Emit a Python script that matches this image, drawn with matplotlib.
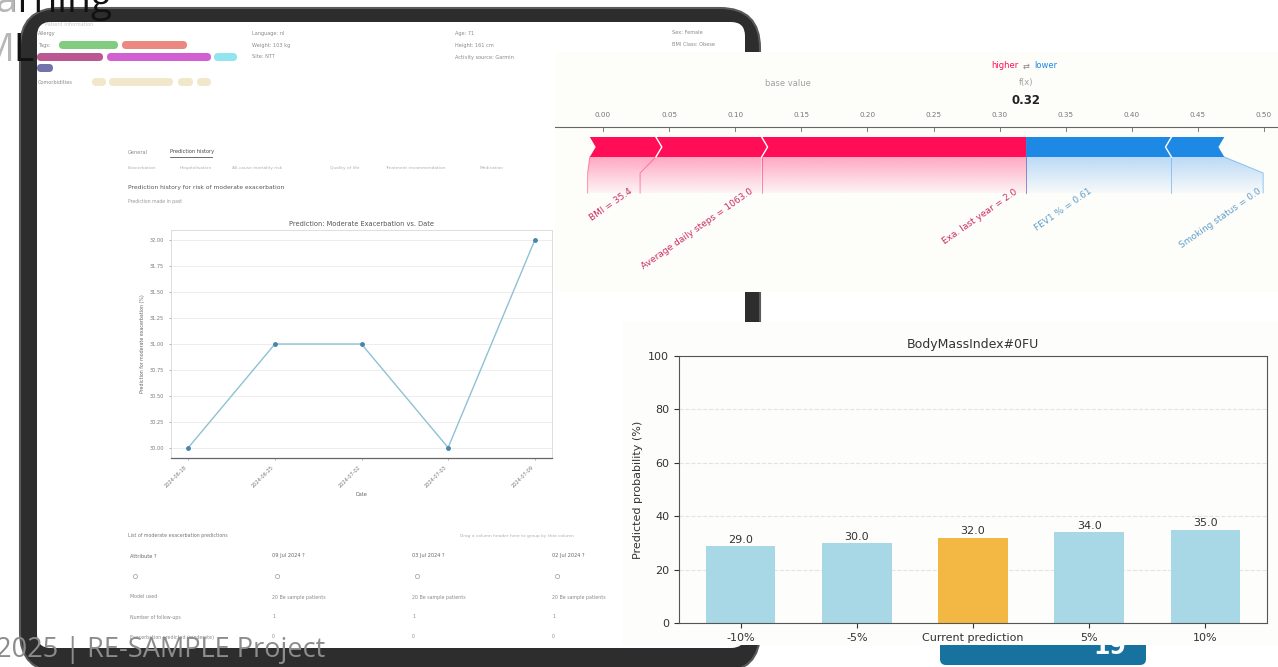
import matplotlib
matplotlib.use("Agg")
import numpy as np
import matplotlib.pyplot as plt
from matplotlib.patches import FancyBboxPatch, Rectangle, Polygon
from matplotlib.colors import to_rgb

W, H = 1278, 667

# --- prediction history shown on the tablet screenshot ---
hist_dates = ["2024-06-18", "2024-06-25", "2024-07-02", "2024-07-03", "2024-07-09"]
hist_values = [30.00, 31.00, 31.00, 30.00, 32.00]
hist_yticks = [30.00, 30.25, 30.50, 30.75, 31.00, 31.25, 31.50, 31.75, 32.00]

# --- SHAP force plot ---
base_value = 0.14
fx_value = 0.32
pos_names = ["Exa. last year = 2.0", "Average daily steps = 1063.0", "BMI = 35.4"]
pos_effects = [0.20, 0.08, 0.05]
neg_names = ["FEV1 % = 0.61", "Smoking status = 0.0"]
neg_effects = [0.11, 0.04]
force_ticks = [0.00, 0.05, 0.10, 0.15, 0.20, 0.25, 0.30, 0.35, 0.40, 0.45, 0.50]

# --- what-if bar chart ---
whatif_labels = ["-10%", "-5%", "Current prediction", "5%", "10%"]
whatif_values = [29.0, 30.0, 32.0, 34.0, 35.0]
whatif_current = 2

fig = plt.figure(figsize=(W / 100, H / 100), dpi=100)
fig.patch.set_facecolor("white")


def px_axes(x0, y0, x1, y1, **kw):
    # axes placed with pixel coordinates (top-left origin)
    return fig.add_axes([x0 / W, 1 - y1 / H, (x1 - x0) / W, (y1 - y0) / H], **kw)


def blank(ax):
    for s in ax.spines.values():
        s.set_visible(False)
    ax.set_xticks([])
    ax.set_yticks([])


# ---------------- slide background + tablet ----------------
bg = px_axes(0, 0, W, H)
bg.set_xlim(0, W)
bg.set_ylim(H, 0)
bg.axis("off")

bg.add_patch(FancyBboxPatch((20, 8), 740, 664, boxstyle="round,pad=0,rounding_size=40",
                            fc="#2d2d2d", ec="#5a5a5a", lw=1.5))
bg.add_patch(FancyBboxPatch((37, 22), 708, 626, boxstyle="round,pad=0,rounding_size=14",
                            fc="white", ec="none"))


def tiny(x, y, s, size=3.6, color="#8a8a8a", **kw):
    bg.text(x, y, s, fontsize=size, color=color, va="center", **kw)


def pill(x0, x1, y, fc):
    bg.add_patch(FancyBboxPatch((x0, y - 4), x1 - x0, 8, boxstyle="round,pad=0,rounding_size=4",
                                fc=fc, ec="none", alpha=0.85))


# patient header on the screen
tiny(45, 25, "Patient information", color="#c8c8c8")
tiny(38, 33, "Allergy")
tiny(38, 45, "Tags:")
tiny(38, 82, "Comorbidities")
pill(59, 118, 45, "#6cc36c")
pill(122, 187, 45, "#e8736c")
pill(37, 103, 57, "#b03a7e")
pill(107, 211, 57, "#cc44cc")
pill(214, 237, 57, "#7fe0ec")
pill(37, 53, 68, "#5a5a9a")
for x0, x1 in [(92, 106), (109, 173), (178, 193), (197, 211)]:
    pill(x0, x1, 82, "#efe4c2")
tiny(252, 33, "Language: nl")
tiny(252, 45, "Weight: 103 kg")
tiny(252, 57, "Site: NTT")
tiny(455, 33, "Age: 71")
tiny(455, 45, "Height: 161 cm")
tiny(455, 57, "Activity source: Garmin")
tiny(672, 33, "Sex: Female")
tiny(672, 45, "BMI Class: Obese")

# tabs
tiny(128, 152, "General")
tiny(170, 152, "Prediction history", color="#444444")
bg.plot([170, 212], [157, 157], color="#555555", lw=0.6)
for x, s in [(128, "Exacerbation"), (180, "Hospitalisation"), (232, "All-cause mortality risk"),
             (330, "Quality of life"), (385, "Treatment recommendation"), (480, "Medication")]:
    tiny(x, 168, s, size=3.2, color="#b0b0b0")
tiny(128, 187, "Prediction history for risk of moderate exacerbation", size=4.3, color="#555555")
tiny(128, 202, "Prediction made in past", size=3.3, color="#999999")

# table below the line chart
tiny(128, 536, "List of moderate exacerbation predictions", size=3.4, color="#777777")
tiny(460, 536, "Drag a column header here to group by that column", size=3.2, color="#b0b0b0")
for x, s in [(130, "Attribute ?"), (272, "09 Jul 2024 ?"), (412, "03 Jul 2024 ?"), (552, "02 Jul 2024 ?")]:
    tiny(x, 556, s, size=3.6, color="#666666")
    bg.plot(x + 5, 576, marker="o", ms=3, mfc="none", mec="#aaaaaa", mew=0.6)
rows = [("Model used", "20 Be sample patients"), ("Number of follow-ups", "1"),
        ("Exacerbation predicted (moderate)", "0")]
for y, (attr, val) in zip([597, 617, 637], rows):
    tiny(130, y, attr, size=3.4)
    for x in [272, 412, 552]:
        tiny(x, y, val, size=3.4)

# slide texts
bg.text(112, 12, "Learning", ha="right", va="baseline", fontsize=28, family="Open Sans",
        color="#111111", zorder=10)
bg.text(34, 61, "ML", ha="right", va="baseline", fontsize=28, family="Open Sans",
        color="#111111", zorder=10)
bg.add_patch(Rectangle((0, 0), 14, 68, fc="white", ec="none", alpha=0.7, zorder=11))
bg.text(-4, 657, "2025 | RE-SAMPLE Project", ha="left", va="baseline", fontsize=19.5,
        family="Open Sans", color="#8c8c8c", zorder=10)
bg.add_patch(FancyBboxPatch((940, 612), 206, 53, boxstyle="round,pad=0,rounding_size=6",
                            fc="#1872a0", ec="none"))
bg.text(1110, 647, "19", ha="center", va="center", fontsize=17, fontweight="bold", color="white")

# ---------------- line chart inside the tablet ----------------
ax_l = px_axes(171, 230, 552, 458)
x_hist = np.arange(len(hist_values))
ax_l.plot(x_hist, hist_values, color="#8fc1d4", lw=1.0, marker="o", ms=2.5,
          mfc="#4a86a8", mec="#4a86a8")
ax_l.set_yticks(hist_yticks)
ax_l.set_yticklabels([f"{v:.2f}" for v in hist_yticks])
ax_l.set_xticks(x_hist)
ax_l.set_xticklabels(hist_dates, rotation=45, ha="right")
ax_l.tick_params(labelsize=3.6, colors="#777777", length=1.5, width=0.4)
ax_l.grid(axis="y", color="#e6e6e6", lw=0.5)
ax_l.set_axisbelow(True)
for name, s in ax_l.spines.items():
    s.set_color("#d0d0d0" if name != "bottom" else "#666666")
    s.set_linewidth(0.5 if name != "bottom" else 0.9)
ax_l.set_title("Prediction: Moderate Exacerbation vs. Date", fontsize=4.8, color="#555555", pad=3)
ax_l.set_ylabel("Prediction for moderate exacerbation (%)", fontsize=3.4, color="#666666", labelpad=3)
ax_l.set_xlabel("Date", fontsize=3.6, color="#666666", labelpad=2)

# ---------------- SHAP force plot panel ----------------
ax_f = px_axes(555, 52, 1278, 292, facecolor="#fdfdfa")
blank(ax_f)
ax_f.set_xlim((555 - 603) / 1322, (1278 - 603) / 1322)
ax_f.set_ylim(-0.675, 0.525)

RED, RED_LIGHT = "#ff0d57", "#ffa8c2"
BLUE, BLUE_LIGHT = "#1e88e5", "#bcdaf6"

ax_f.axhline(0.15, color="#666666", lw=0.8)
for t in force_ticks:
    ax_f.plot([t, t], [0.15, 0.13], color="#666666", lw=0.6)
    ax_f.text(t, 0.21, f"{t:.2f}", ha="center", va="center", fontsize=5.2, color="#777777")

ax_f.text(base_value, 0.37, "base value", ha="center", va="center", fontsize=6, color="#a0a0a0")
ax_f.text(fx_value, 0.375, "f(x)", ha="center", va="center", fontsize=6, color="#a0a0a0")
ax_f.text(fx_value, 0.285, f"{fx_value:.2f}", ha="center", va="center", fontsize=8.5,
          fontweight="bold", color="#222222")
ax_f.text(fx_value - 0.006, 0.455, "higher", ha="right", va="center", fontsize=6, color=RED)
ax_f.text(fx_value, 0.455, "\u21c4", ha="center", va="center", fontsize=6, color="#888888")
ax_f.text(fx_value + 0.006, 0.455, "lower", ha="left", va="center", fontsize=6, color=BLUE)

renderer = fig.canvas.get_renderer()
bar_top, bar_bot = 0.10, 0.0
mid = (bar_top + bar_bot) / 2
d = 0.0045


def segment(a, b, sign, color):
    # chevron shaped segment; positive points right, negative points left
    if sign > 0:
        right = [(b, bar_top), (b + d, mid), (b, bar_bot)] if b != fx_value else [(b, bar_top), (b, bar_bot)]
        left = [(a, bar_bot), (a + d, mid), (a, bar_top)]
    else:
        right = [(b, bar_top), (b - d, mid), (b, bar_bot)]
        left = [(a, bar_bot), (a - d, mid), (a, bar_top)] if a != fx_value else [(a, bar_bot), (a, bar_top)]
    ax_f.add_patch(Polygon(right + left, closed=True, fc=color, ec="none", zorder=3))


def gradient_fill(poly_xy, light):
    poly = Polygon(poly_xy, closed=True, fc="none", ec="none")
    ax_f.add_patch(poly)
    xs = [p[0] for p in poly_xy]
    n = 64
    img = np.ones((n, 2, 4))
    img[:, :, :3] = to_rgb(light)
    img[:, :, 3] = np.linspace(1.0, 0.0, n)[:, None]
    im = ax_f.imshow(img, extent=[min(xs), max(xs), -0.2, 0.0], origin="upper",
                     aspect="auto", zorder=1, interpolation="bilinear")
    im.set_clip_path(poly)


def draw_side(names, effects, sign, color, light, text_color):
    pre_val = fx_value
    start_text = fx_value
    prev_line = (fx_value, fx_value, fx_value)
    ax_f.plot([fx_value] * 2, [0, -0.18], color=color, lw=0.7, alpha=0.45, zorder=2)
    for name, eff in zip(names, effects):
        val = pre_val - sign * eff
        a, b = (val, pre_val) if sign > 0 else (pre_val, val)
        segment(a, b, sign, color)
        ha = "right" if sign > 0 else "left"
        t = ax_f.text(start_text - sign * 0.005, -0.15, name, ha=ha, va="top", rotation=35,
                      fontsize=6.5, color=text_color, zorder=4)
        bb = t.get_window_extent(renderer).transformed(ax_f.transData.inverted())
        box_end = bb.x0 if sign > 0 else bb.x1
        if sign * box_end > sign * val:
            line = (val, val, val)
            start_text = val
        else:
            line = (val, box_end, box_end)
            start_text = box_end
        ax_f.plot(line, [0, -0.08, -0.18], color=color, lw=0.7, alpha=0.45, zorder=2)
        gradient_fill([(pre_val, 0), (line[0], 0), (line[1], -0.08), (line[2], -0.18),
                       (prev_line[2], -0.18), (prev_line[1], -0.08)], light)
        # white separator between neighbouring segments
        if pre_val != fx_value:
            tip = pre_val + d if sign > 0 else pre_val - d
            ax_f.plot([pre_val, tip, pre_val], [bar_top, mid, bar_bot], color="white", lw=1.0, zorder=4)
        prev_line = line
        pre_val = val


draw_side(pos_names, pos_effects, 1, RED, RED_LIGHT, "#cc2a62")
draw_side(neg_names, neg_effects, -1, BLUE, BLUE_LIGHT, "#5f9fc9")

# ---------------- what-if bar chart panel ----------------
ax_p = px_axes(622, 322, 1278, 645, facecolor="#fdfdfc")
blank(ax_p)

ax_b = px_axes(679, 356, 1267, 623)
x_b = np.arange(len(whatif_values))
colors = ["#f3b843" if i == whatif_current else "#a8d8e6" for i in x_b]
ax_b.bar(x_b, whatif_values, width=0.6, color=colors, zorder=2)
for xi, v in zip(x_b, whatif_values):
    ax_b.text(xi, v + 0.4, f"{v:.1f}", ha="center", va="bottom", fontsize=8, color="#333333", zorder=3)
ax_b.set_ylim(0, 100)
ax_b.set_xticks(x_b)
ax_b.set_xticklabels(whatif_labels)
ax_b.tick_params(labelsize=8, colors="#333333")
ax_b.grid(axis="y", color="#dddddd", lw=0.8, linestyle="--", alpha=0.8)
ax_b.set_axisbelow(True)
for s in ax_b.spines.values():
    s.set_color("#555555")
ax_b.set_title("BodyMassIndex#0FU", fontsize=9, color="#333333", pad=6)
ax_b.set_ylabel("Predicted probability (%)", fontsize=8, color="#333333")
ax_b.set_facecolor("#fdfdfc")

fig.savefig("out.png", dpi=100, facecolor="white")
